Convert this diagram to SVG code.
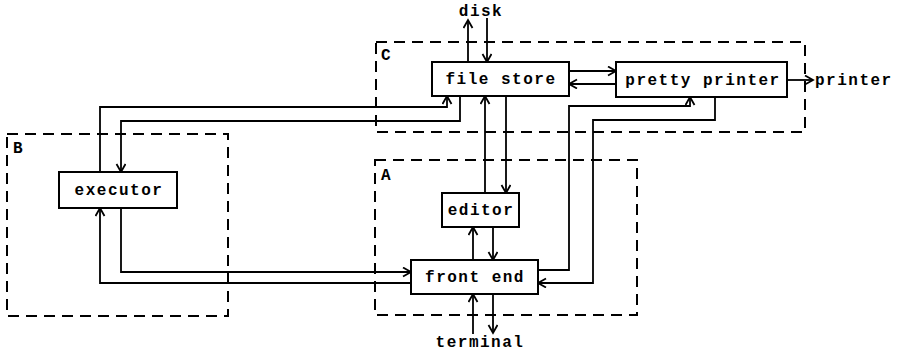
<svg xmlns="http://www.w3.org/2000/svg" width="906" height="353" viewBox="0 0 906 353">
<style>
.bg{fill:#fff}
.grp{fill:none;stroke:#000;stroke-width:2;stroke-dasharray:11 7}
.box{fill:#fff;stroke:#000;stroke-width:2}
.c{fill:none;stroke:#000;stroke-width:1.8}
.t{font-family:"Liberation Mono","DejaVu Sans Mono",monospace;font-weight:bold;font-size:16px;letter-spacing:1.5px;fill:#000}
.m{text-anchor:middle}
</style>
<defs>
<marker id="ah" markerUnits="userSpaceOnUse" markerWidth="12" markerHeight="12" refX="9" refY="5" orient="auto">
<path d="M1,0.5 L9,5 L1,9.5" fill="none" stroke="#000" stroke-width="1.8"/>
</marker>
</defs>
<rect class="bg" width="906" height="353"/>
<g id="groups">
<rect class="grp" x="376" y="42" width="429" height="90"/>
<text class="t" x="381" y="60">C</text>
<rect class="grp" x="7" y="134" width="221" height="182"/>
<text class="t" x="13" y="153">B</text>
<rect class="grp" x="375" y="160" width="262" height="155"/>
<text class="t" x="381" y="180">A</text>
</g>
<g id="connectors">
<path class="c" d="M468,62 V20" marker-end="url(#ah)"/>
<path class="c" d="M487,18 V62" marker-end="url(#ah)"/>
<path class="c" d="M569,71 H616" marker-end="url(#ah)"/>
<path class="c" d="M616,84 H569" marker-end="url(#ah)"/>
<path class="c" d="M787,80 H813" marker-end="url(#ah)"/>
<path class="c" d="M100,172 V107 H447 V96" marker-end="url(#ah)"/>
<path class="c" d="M460,96 V121 H121 V172" marker-end="url(#ah)"/>
<path class="c" d="M121,208 V272 H411" marker-end="url(#ah)"/>
<path class="c" d="M411,283 H100 V208" marker-end="url(#ah)"/>
<path class="c" d="M485,193 V96" marker-end="url(#ah)"/>
<path class="c" d="M506,96 V193" marker-end="url(#ah)"/>
<path class="c" d="M473,260 V227" marker-end="url(#ah)"/>
<path class="c" d="M493,227 V260" marker-end="url(#ah)"/>
<path class="c" d="M538,270 H569 V106 H690 V97" marker-end="url(#ah)"/>
<path class="c" d="M715,97 V120 H593 V283 H538" marker-end="url(#ah)"/>
<path class="c" d="M473,334 V294" marker-end="url(#ah)"/>
<path class="c" d="M493,294 V333" marker-end="url(#ah)"/>
</g>
<g id="file-store">
<rect class="box" x="432" y="62" width="137" height="34"/>
<text class="t m" x="501" y="84">file store</text>
</g>
<g id="pretty-printer">
<rect class="box" x="616" y="62" width="171" height="35"/>
<text class="t m" x="703" y="85">pretty printer</text>
</g>
<g id="executor">
<rect class="box" x="59" y="172" width="118" height="36"/>
<text class="t m" x="119" y="195">executor</text>
</g>
<g id="editor">
<rect class="box" x="442" y="193" width="77" height="34"/>
<text class="t m" x="481" y="215">editor</text>
</g>
<g id="front-end">
<rect class="box" x="411" y="260" width="127" height="34"/>
<text class="t m" x="475" y="282">front end</text>
</g>
<g id="labels">
<text class="t m" x="481" y="16">disk</text>
<text class="t" x="815" y="85">printer</text>
<text class="t m" x="480" y="347">terminal</text>
</g>
</svg>
